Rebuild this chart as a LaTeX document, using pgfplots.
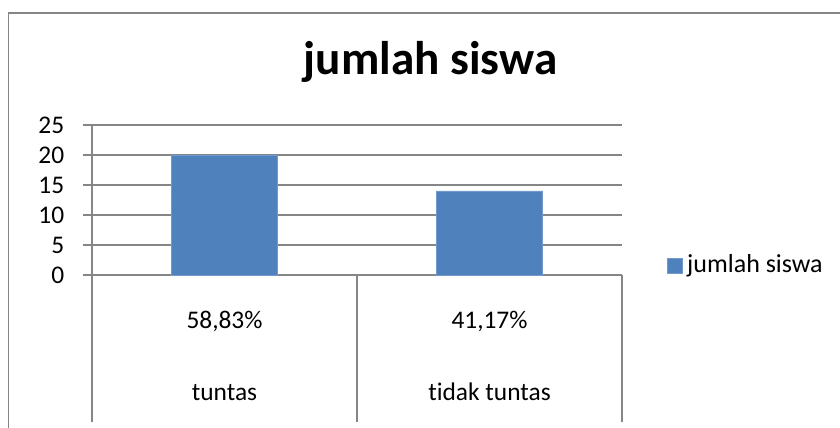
\documentclass[border=0pt]{standalone}
\usepackage{fontspec}
\setmainfont{Carlito}[Ligatures={NoCommon}]
\usepackage{pgfplots}
\pgfplotsset{compat=1.18}
\definecolor{barblue}{HTML}{4F81BD}
\definecolor{gridgray}{HTML}{868686}
\begin{document}
\fontsize{12.7}{15}\selectfont
\begin{tikzpicture}
\useasboundingbox (0,0) rectangle (420pt,214pt);
\draw[gridgray, line width=0.9pt] (4.25pt,-10pt) |- (440pt,207.5pt);
\node[font=\fontsize{23.6}{28}\selectfont\bfseries, anchor=base, inner sep=0pt] at (215.25pt,176.5pt) {jumlah siswa};
\begin{axis}[
  at={(46pt,76.5pt)}, anchor=south west,
  scale only axis, width=265pt, height=75pt,
  xmin=-0.5, xmax=1.5, ymin=0, ymax=25,
  axis x line*=bottom, axis y line*=left,
  axis line style={gridgray, line width=0.75pt},
  ytick={0,5,10,15,20,25},
  ymajorgrids, grid style={gridgray, line width=0.75pt},
  tick align=outside, major tick length=4.5pt,
  ytick style={gridgray, line width=0.75pt},
  y tick label style={font=\fontsize{12.7}{15}\selectfont, xshift=-5pt},
  /pgf/number format/assume math mode=true,
  xtick={0,1}, xticklabels={tuntas, tidak tuntas},
  xtick style={draw=none},
  x tick label style={font=\fontsize{12.7}{15}\selectfont, anchor=base, yshift=-58pt},
  extra x ticks={-0.5,0.5,1.5}, extra x tick labels={},
  extra x tick style={grid=none, major tick length=73.5pt, xtick style={draw=gridgray, line width=0.75pt}},
  ybar, bar width=0.4,
  legend style={draw=none, fill=none, inner sep=0pt, at={(1.0849,0.0633)}, anchor=west,
    font=\fontsize{13}{15.5}\selectfont},
  legend image code/.code={\fill[#1] (0pt,-3.75pt) rectangle (7.5pt,3.75pt);},
  clip=false,
]
\addplot[fill=barblue, draw=barblue!80!white] coordinates {(0,20) (1,14)};
\addlegendentry{jumlah siswa}
\node[anchor=base, font=\fontsize{12.7}{15}\selectfont] at ([yshift=-26.5pt]axis cs:0,0) {58,83\%};
\node[anchor=base, font=\fontsize{12.7}{15}\selectfont] at ([yshift=-26.5pt]axis cs:1,0) {41,17\%};
\end{axis}
\end{tikzpicture}
\end{document}
